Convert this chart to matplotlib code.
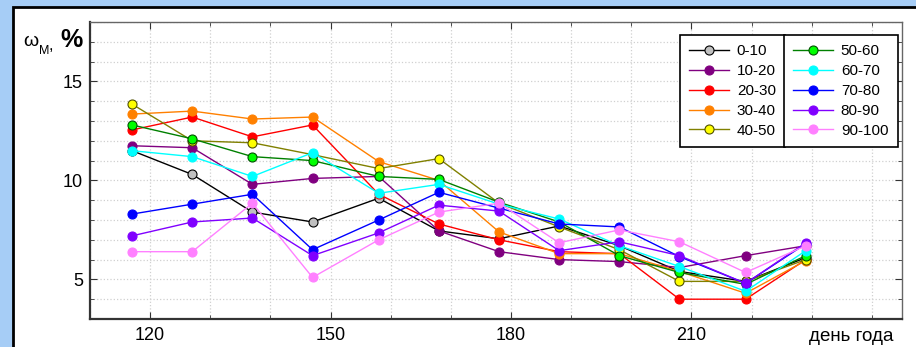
import matplotlib.pyplot as plt
from matplotlib.patches import Rectangle
from matplotlib.ticker import MultipleLocator, FixedLocator

plt.rcParams['font.family'] = ['Liberation Sans', 'DejaVu Sans']

# day of year for each sampling date
days = [117, 127, 137, 147, 158, 168, 178, 188, 198, 208, 219, 229]

# moisture (%) by depth layer, cm
w_0_10 = [11.5, 10.3, 8.4, 7.9, 9.1, 7.45, 7.05, 7.7, 6.7, 5.4, 4.9, 6.1]
w_10_20 = [11.75, 11.65, 9.8, 10.1, 10.2, 7.45, 6.4, 6.0, 5.9, 5.6, 6.2, 6.7]
w_20_30 = [12.55, 13.2, 12.2, 12.8, 9.3, 7.8, 7.0, 6.4, 6.3, 4.0, 4.0, 6.0]
w_30_40 = [13.35, 13.5, 13.1, 13.2, 10.95, 10.0, 7.4, 6.3, 6.3, 5.4, 4.3, 5.95]
w_40_50 = [13.85, 12.0, 11.9, 11.3, 10.6, 11.1, 8.85, 7.65, 6.5, 4.9, 4.9, 6.0]
w_50_60 = [12.8, 12.1, 11.2, 11.0, 10.2, 10.05, 8.9, 7.9, 6.2, 5.35, 4.75, 6.2]
w_60_70 = [11.5, 11.2, 10.2, 11.4, 9.35, 9.8, 8.8, 8.05, 6.7, 5.65, 4.4, 6.45]
w_70_80 = [8.3, 8.8, 9.3, 6.5, 8.0, 9.4, 8.6, 7.8, 7.65, 6.15, 4.8, 6.8]
w_80_90 = [7.2, 7.9, 8.1, 6.2, 7.35, 8.75, 8.45, 6.45, 6.9, 6.2, 4.8, 6.85]
w_90_100 = [6.4, 6.4, 8.85, 5.1, 7.0, 8.4, 8.85, 6.85, 7.5, 6.9, 5.35, 6.7]

layers = ["0-10", "10-20", "20-30", "30-40", "40-50",
          "50-60", "60-70", "70-80", "80-90", "90-100"]
values = [w_0_10, w_10_20, w_20_30, w_30_40, w_40_50,
          w_50_60, w_60_70, w_70_80, w_80_90, w_90_100]

# (line colour, marker face, marker edge)
styles = [
    ("black", "#c0c0c0", "black"),
    ("#800080", "#800080", "#800080"),
    ("#ff0000", "#ff0000", "#ff0000"),
    ("#ff8000", "#ff8000", "#ff8000"),
    ("#808000", "#ffff00", "#505000"),
    ("#008000", "#00ff00", "#005000"),
    ("#00ffff", "#00ffff", "#00ffff"),
    ("#0000ff", "#0000ff", "#0000ff"),
    ("#8000ff", "#8000ff", "#8000ff"),
    ("#ff80ff", "#ff80ff", "#ff80ff"),
]

W, H = 916, 347
fig = plt.figure(figsize=(W / 100, H / 100), dpi=100)
fig.patch.set_facecolor("#a6cdf6")

# white panel with black frame
fig.patches.append(Rectangle((13 / W, -0.1), 1.2, 1.1 - 7 / H,
                             transform=fig.transFigure, facecolor="white",
                             edgecolor="black", linewidth=2, zorder=-10))

ax = fig.add_axes([90 / W, 1 - 319 / H, (902 - 90) / W, (319 - 22) / H])
ax.set_facecolor("white")

lines = []
for name, ys, (lc, fc, ec) in zip(layers, values, styles):
    ln, = ax.plot(days, ys, color=lc, lw=1, marker="o", markersize=6.5,
                  markerfacecolor=fc, markeredgecolor=ec, markeredgewidth=0.8,
                  label=name)
    lines.append(ln)

ax.set_xlim(110, 245)
ax.set_ylim(3, 18)
ax.xaxis.set_major_locator(FixedLocator([120, 150, 180, 210]))
ax.xaxis.set_minor_locator(MultipleLocator(10))
ax.yaxis.set_major_locator(FixedLocator([5, 10, 15]))
ax.yaxis.set_minor_locator(MultipleLocator(1))
ax.grid(which="both", color="#d0d0d0", linestyle=":", linewidth=0.9)
ax.set_axisbelow(True)

ax.tick_params(which="both", direction="in", top=True, right=True,
               labelsize=13, colors="#333333", labelcolor="black")
ax.tick_params(which="major", length=5, pad=6)
ax.tick_params(which="minor", length=3)
ax.tick_params(axis="y", which="major", pad=5)

for side in ["left", "bottom"]:
    ax.spines[side].set_linewidth(1.6)
    ax.spines[side].set_color("#333333")
for side in ["top", "right"]:
    ax.spines[side].set_linewidth(1.0)
    ax.spines[side].set_color("#666666")

fig.text(851 / W, 1 - 328 / H, "день года", fontsize=13.5, ha="center", va="top")

# axis title: omega with subscript M, then bold %
fig.text(23 / W, 1 - 46 / H, "ω", fontsize=14, ha="left", va="baseline")
fig.text(38.5 / W, 1 - 54 / H, "М", fontsize=9, ha="left", va="baseline")
fig.text(49 / W, 1 - 50 / H, ",", fontsize=12, ha="left", va="baseline")
fig.text(60 / W, 1 - 47 / H, "%", fontsize=18, fontweight="bold",
         ha="left", va="baseline")

leg_kw = dict(loc="upper left", fontsize=11, frameon=True, fancybox=False,
              framealpha=1, edgecolor="black", handlelength=2.6,
              handletextpad=0.5, labelspacing=0.38, borderpad=0.62,
              borderaxespad=0)
leg1 = fig.legend(handles=lines[:5], bbox_to_anchor=(680 / W, 1 - 35 / H), **leg_kw)
leg1.get_frame().set_linewidth(1.2)
leg2 = fig.legend(handles=lines[5:], bbox_to_anchor=(784 / W, 1 - 35 / H), **leg_kw)
leg2.get_frame().set_linewidth(1.2)

fig.savefig("out.png", dpi=100, facecolor=fig.get_facecolor())
